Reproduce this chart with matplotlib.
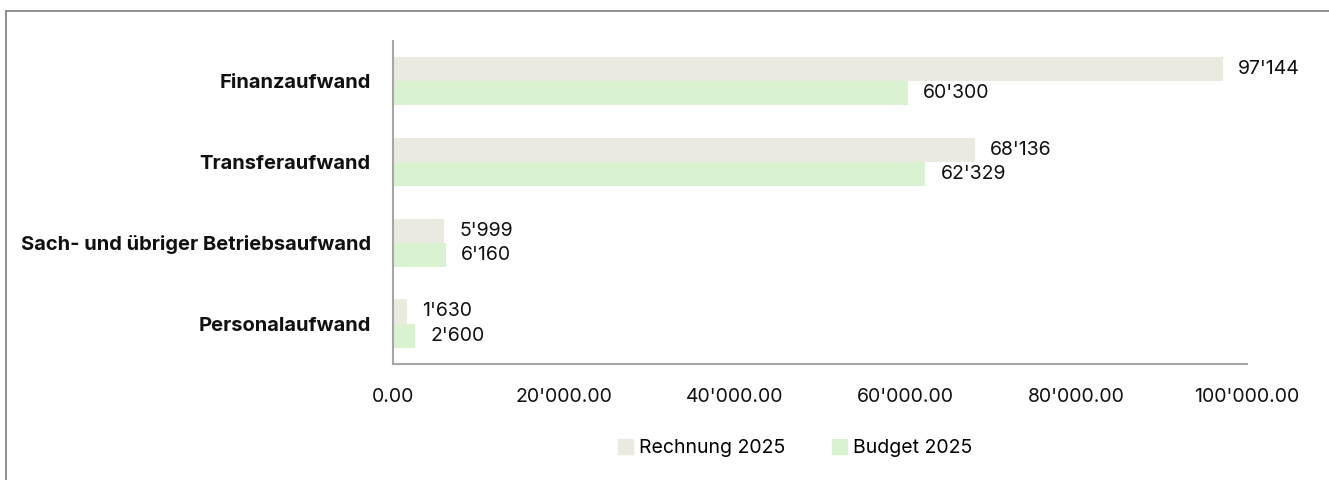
import matplotlib
matplotlib.use('Agg')
import matplotlib.pyplot as plt
from matplotlib.lines import Line2D
from matplotlib.patches import Patch
import numpy as np

# データ
categories = ['Personalaufwand', 'Sach- und übriger Betriebsaufwand',
              'Transferaufwand', 'Finanzaufwand']
rechnung_2025 = [1630, 5999, 68136, 97144]
budget_2025 = [2600, 6160, 62329, 60300]
series_names = ['Rechnung 2025', 'Budget 2025']
x_ticks = [0, 20000, 40000, 60000, 80000, 100000]

c_rech = '#EBEAE0'
c_budg = '#D9F2D0'

plt.rcParams['font.family'] = ['Inter', 'DejaVu Sans']

W, H = 1329, 480
fig = plt.figure(figsize=(W / 100, H / 100), dpi=100)
ax = fig.add_axes([393 / W, 1 - 364 / H, (1247 - 393) / W, (364 - 40.7) / H])

y = np.arange(len(categories))
h = 0.3
ax.barh(y + h / 2, rechnung_2025, height=h, color=c_rech, label=series_names[0])
ax.barh(y - h / 2, budget_2025, height=h, color=c_budg, label=series_names[1])

# 値ラベル
def fmt(v):
    return f'{v:,.0f}'.replace(',', "'")

for i in range(len(categories)):
    ax.annotate(fmt(rechnung_2025[i]), (rechnung_2025[i], y[i] + h / 2),
                xytext=(11, 0), textcoords='offset points',
                va='center', ha='left', fontsize=14, color='#111111')
    ax.annotate(fmt(budget_2025[i]), (budget_2025[i], y[i] - h / 2),
                xytext=(11, 0), textcoords='offset points',
                va='center', ha='left', fontsize=14, color='#111111')

ax.set_xlim(0, 100000)
ax.set_ylim(-0.5, len(categories) - 0.5)
ax.set_xticks(x_ticks)
ax.set_xticklabels([f'{v:,.2f}'.replace(',', "'") for v in x_ticks],
                   fontsize=14, color='#111111')
ax.set_yticks(y)
ax.set_yticklabels(categories, fontsize=14.5, fontweight='bold', color='#111111')
ax.tick_params(axis='both', length=0)
ax.tick_params(axis='x', pad=17)
ax.tick_params(axis='y', pad=16)

for s in ['top', 'right']:
    ax.spines[s].set_visible(False)
for s in ['left', 'bottom']:
    ax.spines[s].set_color('#A6A6A6')
    ax.spines[s].set_linewidth(1.5)

# 凡例
handles = [Patch(color=c_rech), Patch(color=c_budg)]
fig.legend(handles, series_names, loc='center', bbox_to_anchor=(795 / W, 1 - 448 / H),
           ncol=2, frameon=False, fontsize=14, handlelength=0.8, handleheight=0.8,
           handletextpad=0.3, columnspacing=2.4)

# 外枠（左と上だけ見えている）
fig.add_artist(Line2D([6 / W, 6 / W], [0, 1 - 11 / H], color='#888888', lw=1.3,
                      transform=fig.transFigure))
fig.add_artist(Line2D([6 / W, 1], [1 - 11 / H, 1 - 11 / H], color='#888888', lw=1.3,
                      transform=fig.transFigure))

fig.savefig('out.png', dpi=100)
plt.close()
